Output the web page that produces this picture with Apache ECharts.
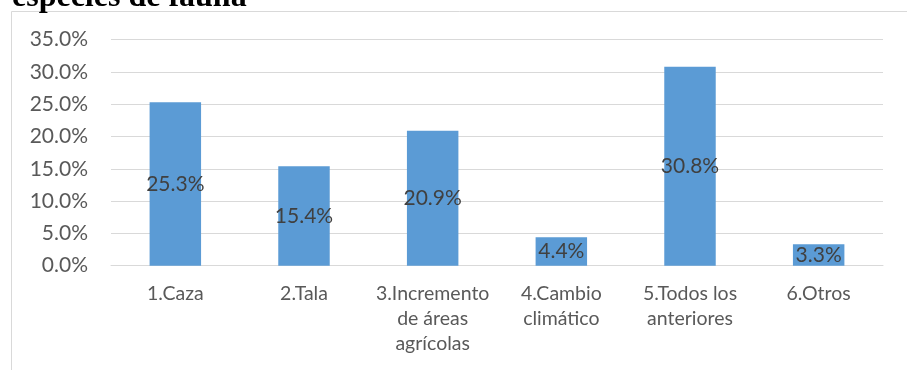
<!DOCTYPE html>
<html>
<head>
<meta charset="utf-8">
<script src="https://cdn.jsdelivr.net/npm/echarts@6/dist/echarts.min.js"></script>
<style>
html,body{margin:0;padding:0;background:#fff;}
#chart{width:907px;height:370px;}
</style>
</head>
<body>
<div id="chart"></div>
<script>
const titleText = 'especies de fauna';
const categories = ['1.Caza', '2.Tala', '3.Incremento\nde áreas\nagrícolas', '4.Cambio\nclimático', '5.Todos los\nanteriores', '6.Otros'];
const values = [25.3, 15.4, 20.9, 4.4, 30.8, 3.3];
const yTicks = [0, 5, 10, 15, 20, 25, 30, 35];

const chart = echarts.init(document.getElementById('chart'), null, {renderer: 'canvas'});
const FONT = 'Lato, "Liberation Sans", sans-serif';
chart.setOption({
  animation: false,
  backgroundColor: '#fff',
  graphic: [
    {type: 'line', shape: {x1: 11.5, y1: 11.5, x2: 907, y2: 11.5}, style: {stroke: '#d9d9d9', lineWidth: 1}, silent: true},
    {type: 'line', shape: {x1: 11.5, y1: 11.5, x2: 11.5, y2: 370}, style: {stroke: '#d9d9d9', lineWidth: 1}, silent: true},
    {type: 'text', left: 12, top: -18, style: {text: titleText, font: 'bold 32px "Liberation Serif", serif', fill: '#000'}, silent: true}
  ],
  grid: {left: 111, right: 24, top: 39.5, bottom: 104.3, containLabel: false},
  xAxis: {
    type: 'category',
    data: categories,
    axisLine: {show: true, lineStyle: {color: '#d9d9d9', width: 1}},
    axisTick: {show: false},
    axisLabel: {color: '#595959', fontFamily: FONT, fontSize: 19.5, lineHeight: 25, margin: 16, interval: 0}
  },
  yAxis: {
    type: 'value',
    min: 0, max: 35, interval: 5,
    axisLine: {show: false},
    axisTick: {show: false},
    splitLine: {lineStyle: {color: '#d9d9d9', width: 1}},
    axisLabel: {color: '#595959', fontFamily: FONT, fontSize: 21, margin: 23,
      formatter: v => yTicks.includes(v) ? v.toFixed(1) + '%' : ''}
  },
  series: [{
    type: 'bar',
    data: values,
    barWidth: '40%',
    itemStyle: {color: '#5b9bd5'},
    label: {show: true, position: 'inside', color: '#404040', fontFamily: FONT, fontSize: 21,
      formatter: p => p.value.toFixed(1) + '%'}
  }]
});
</script>
</body>
</html>
